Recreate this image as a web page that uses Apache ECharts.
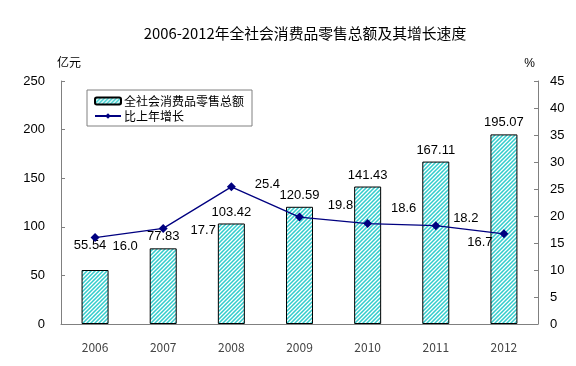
<!DOCTYPE html>
<html>
<head>
<meta charset="utf-8">
<script src="https://cdn.jsdelivr.net/npm/echarts@6/dist/echarts.min.js"></script>
<style>html,body{margin:0;padding:0;background:#fff}#c{width:576px;height:366px}</style>
</head>
<body>
<div id="c"></div>
<script>
const years = ['2006','2007','2008','2009','2010','2011','2012'];
const salesTotal = [55.54, 77.83, 103.42, 120.59, 141.43, 167.11, 195.07];
const growthRate = [16.0, 17.7, 25.4, 19.8, 18.6, 18.2, 16.7];
const leftTicks = [0, 50, 100, 150, 200, 250];
const rightTicks = [0, 5, 10, 15, 20, 25, 30, 35, 40, 45];

// label placement style (offsets in px, like the original's manual placement)
const growthLabelOffsets = [[30,9],[40,2],[36,-2],[41,-12],[36,-15],[30,-7],[-24,9]];
const salesLabelOffsets = [[-5,-13],[0,0],[0,0],[0,0],[0,0],[0,0],[0,0]];

function hatch(){
  const s = 4;
  const c = document.createElement('canvas'); c.width = s; c.height = s;
  const g = c.getContext('2d');
  g.fillStyle = '#33cccc'; g.fillRect(0,0,s,s);
  g.strokeStyle = '#ffffff'; g.lineWidth = 1.3;
  g.beginPath();
  g.moveTo(0,s); g.lineTo(s,0);
  g.moveTo(-s/2,s/2); g.lineTo(s/2,-s/2);
  g.moveTo(s/2,s*1.5); g.lineTo(s*1.5,s/2);
  g.stroke();
  return c;
}
const pat = {image: hatch(), repeat: 'repeat'};
const numFont = '"Liberation Sans", Arial, sans-serif';
const cjkFont = '"Noto Sans CJK SC", sans-serif';

const chart = echarts.init(document.getElementById('c'));
chart.setOption({
  animation: false,
  backgroundColor: '#fff',
  title: {
    text: '2006-2012年全社会消费品零售总额及其增长速度',
    left: 300, top: 21, textAlign: 'center',
    textStyle: {fontSize: 14.8, fontWeight: 'normal', color: '#000', fontFamily: cjkFont}
  },
  legend: {
    orient: 'vertical', left: 87, top: 90,
    padding: [5, 8, 4, 7], itemGap: 3,
    borderColor: '#808080', borderWidth: 1,
    itemWidth: 26, itemHeight: 7,
    textStyle: {fontSize: 12, color: '#000', fontFamily: cjkFont, padding: [0,0,0,-2]},
    data: ['全社会消费品零售总额', '比上年增长']
  },
  grid: {left: 61, right: 38, top: 81, bottom: 42},
  xAxis: {
    type: 'category', data: years,
    axisLine: {lineStyle: {color: '#808080', width: 1}},
    axisTick: {inside: true, length: 4, lineStyle: {color: '#808080'}},
    axisLabel: {margin: 17, fontSize: 12, color: '#444', fontFamily: cjkFont}
  },
  yAxis: [{
    type: 'value', min: 0, max: 250, interval: 50,
    name: '亿元', nameLocation: 'end', nameGap: 13,
    nameTextStyle: {fontSize: 12, color: '#000', fontFamily: cjkFont, align: 'left', padding: [0,0,0,-4]},
    axisLine: {show: true, lineStyle: {color: '#808080'}},
    axisTick: {show: true, inside: true, length: 4, lineStyle: {color: '#808080'}},
    splitLine: {show: false},
    axisLabel: {margin: 16, fontSize: 13, color: '#000', fontFamily: numFont,
      formatter: v => leftTicks.includes(v) ? String(v) : ''}
  }, {
    type: 'value', min: 0, max: 45, interval: 5,
    name: '%', nameLocation: 'end', nameGap: 11,
    nameTextStyle: {fontSize: 12, color: '#000', fontFamily: numFont, align: 'right', padding: [0,3,0,0]},
    axisLine: {show: true, lineStyle: {color: '#808080'}},
    axisTick: {show: true, inside: true, length: 4, lineStyle: {color: '#808080'}},
    splitLine: {show: false},
    axisLabel: {margin: 12, fontSize: 13, color: '#000', fontFamily: numFont,
      formatter: v => rightTicks.includes(v) ? String(v) : ''}
  }],
  series: [{
    name: '全社会消费品零售总额', type: 'bar', barWidth: 27,
    itemStyle: {color: pat, borderColor: '#000', borderWidth: 1},
    data: salesTotal.map((v, i) => ({
      value: v,
      label: {offset: salesLabelOffsets[i]}
    })),
    label: {show: true, position: 'top', distance: 5, fontSize: 13, color: '#000', fontFamily: numFont,
      formatter: p => p.value.toFixed(2)}
  }, {
    name: '比上年增长', type: 'line', yAxisIndex: 1,
    symbol: 'diamond', symbolSize: 9,
    lineStyle: {color: '#000080', width: 1.3},
    itemStyle: {color: '#000080'},
    data: growthRate.map((v, i) => ({
      value: v,
      label: {offset: growthLabelOffsets[i]}
    })),
    label: {show: true, position: 'inside', fontSize: 13, color: '#000', fontFamily: numFont,
      formatter: p => p.value.toFixed(1)}
  }]
});
</script>
</body>
</html>
